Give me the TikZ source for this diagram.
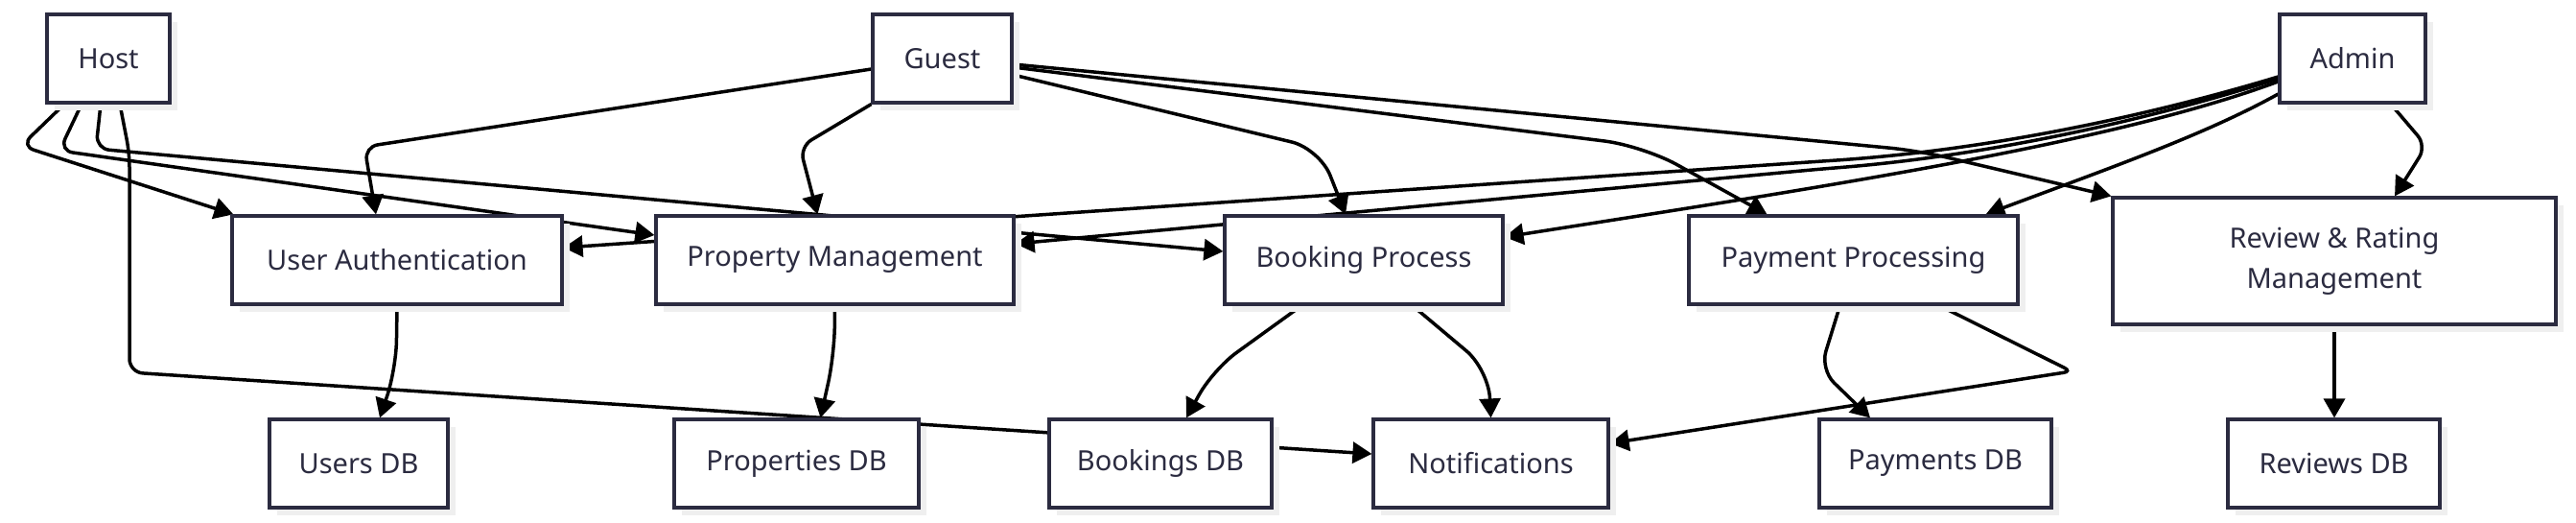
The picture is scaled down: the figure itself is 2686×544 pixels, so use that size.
\documentclass[tikz,border=0pt]{standalone}
\usepackage{fontspec}
\setmainfont{Noto Sans}
\usetikzlibrary{arrows.meta,backgrounds,shadows}
\definecolor{boxline}{RGB}{43,43,64}
\definecolor{shadowgray}{RGB}{239,239,239}
\tikzset{
  box/.style={draw=boxline,line width=3.2pt,fill=white,text=boxline,font=\fontsize{29}{42}\selectfont,
    minimum height=92pt,inner sep=0pt,align=center,
    drop shadow={shadow xshift=8pt,shadow yshift=-8pt,fill=shadowgray,opacity=1}},
  edge/.style={->,line width=3.5pt,rounded corners=14pt}
}
\begin{document}
\begin{tikzpicture}[x=1pt,y=-1pt,>={Triangle[length=20pt,width=22pt]}]
\useasboundingbox (0,0) rectangle (2686,544);
\node[box,minimum width=128pt](host)at(113,61){Host};
\node[box,minimum width=145pt](guest)at(982.5,61){Guest};
\node[box,minimum width=152pt](admin)at(2453,61){Admin};
\node[box,minimum width=344pt](ua)at(414,271){User Authentication};
\node[box,minimum width=373pt](pm)at(870.5,271){Property Management};
\node[box,minimum width=290pt](bp)at(1422,271){Booking Process};
\node[box,minimum width=343pt](pp)at(1932.5,271){Payment Processing};
\node[box,minimum width=462pt,minimum height=132pt](rr)at(2434,272){Review \& Rating\\Management};
\node[box,minimum width=186pt](usersdb)at(374,483){Users DB};
\node[box,minimum width=255pt](propdb)at(830.5,483){Properties DB};
\node[box,minimum width=232pt](bookdb)at(1210,483){Bookings DB};
\node[box,minimum width=245pt](notif)at(1554.5,483){Notifications};
\node[box,minimum width=242pt](paydb)at(2018,483){Payments DB};
\node[box,minimum width=221pt](revdb)at(2433.5,483){Reviews DB};

\begin{scope}[on background layer]
\draw[edge]([xshift=-46pt]host.south)--(22,152)--([xshift=3pt]ua.north west);
\draw[edge]([xshift=-28pt]host.south)--(62,157)--([yshift=26pt]pm.west);
\draw[edge]([xshift=-8pt]host.south)--(100,155)--([yshift=9pt]bp.west);
\draw[edge]([xshift=12pt]host.south)--(135,160)--(135,388)--([yshift=10pt]notif.west);

\draw[edge]([yshift=-11pt]guest.west)--(380,153)--([xshift=-22pt]ua.north);
\draw[edge](guest.south west)--(834,153)--([xshift=-18pt]pm.north);
\draw[edge,rounded corners=30pt]([yshift=-17pt]guest.east)--(1376,155)--([xshift=-19pt]bp.north);
\draw[edge,rounded corners=40pt]([yshift=-9pt]guest.east)--(1713,152)--([xshift=-90pt]pp.north);
\draw[edge,rounded corners=30pt]([yshift=-6pt]guest.east)--(2000,157)--(rr.north west);

\draw[edge]([yshift=-19pt]admin.west)..controls(2250,118)and(2080,156)..(1900,168)--([yshift=13pt]ua.east);
\draw[edge]([yshift=-21pt]admin.west)..controls(2250,122)and(2080,162)..(1900,176)--([yshift=17pt]pm.east);
\draw[edge]([yshift=-24pt]admin.west)..controls(2200,150)and(1900,195)..([yshift=24pt]bp.east);
\draw[edge]([yshift=-37pt]admin.west)..controls(2300,140)and(2200,175)..([xshift=138pt]pp.north);
\draw[edge]([xshift=40pt]admin.south)--(2530,152)--([xshift=63pt]rr.north);

\draw[edge,rounded corners=30pt](ua.south)--(413,385)--([xshift=22pt]usersdb.north);
\draw[edge,rounded corners=30pt](pm.south)--(870,370)--([xshift=25pt]propdb.north);
\draw[edge,rounded corners=30pt]([xshift=-65pt]bp.south)--(1265,385)--([xshift=27pt]bookdb.north);
\draw[edge,rounded corners=30pt]([xshift=51pt]bp.south)--(1552,385)--(notif.north);
\draw[edge,rounded corners=20pt]([xshift=-14pt]pp.south)--(1898,385)--([xshift=-68pt]paydb.north);
\draw[edge,rounded corners=8pt]([xshift=90pt]pp.south)--(2160,387)--([yshift=21pt]notif.east);
\draw[edge](rr.south)--(rr.south|-revdb.north);
\end{scope}
\end{tikzpicture}
\end{document}
